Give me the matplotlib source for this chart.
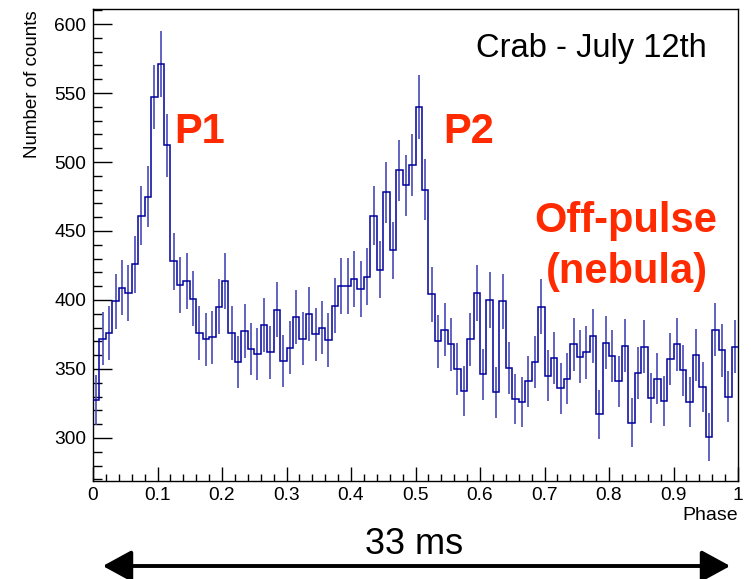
import numpy as np
import matplotlib
matplotlib.use("Agg")
import matplotlib.pyplot as plt
from matplotlib.patches import FancyArrowPatch

plt.rcParams['font.family'] = ['Liberation Sans', 'DejaVu Sans']

# phase histogram, 100 bins over one pulsar period
phase_edges = np.linspace(0.0, 1.0, 101)
counts = [
    327.5, 372, 376, 399, 409, 405, 426, 461, 475, 547,
    571, 512, 428, 411, 414, 401, 376, 371.5, 373, 395,
    414, 376, 355, 377.5, 364.5, 361, 382, 362, 393, 356,
    365.5, 387.5, 372, 390, 375, 380, 371, 396, 410, 410,
    415, 408, 417, 461, 422, 478, 436, 494, 483, 498,
    540, 480, 404, 370, 378.5, 368, 350, 334, 371.5, 405,
    346, 400, 333, 399, 350.5, 328, 326, 341, 355, 395,
    345, 358, 336, 343, 368, 359, 362, 374, 317, 369,
    359.5, 341, 367, 311, 347, 366, 329, 343, 327, 357.5,
    368, 349, 326, 360, 337, 301, 378.5, 363.5, 330, 366,
]
counts = np.array(counts)
centers = 0.5 * (phase_edges[:-1] + phase_edges[1:])
errors = np.sqrt(counts)

fig = plt.figure(figsize=(7.51, 5.79), dpi=100)
ax = fig.add_axes([93 / 751, 1 - 481 / 579, (738 - 93) / 751, (481 - 9) / 579])

ax.errorbar(centers, counts, yerr=errors, fmt='none', ecolor='#4848b8',
            elinewidth=1.2, capsize=0, zorder=2)
ax.stairs(counts, phase_edges, baseline=None, color='#00009c', lw=1.1, zorder=3)

ax.set_xlim(0, 1)
ax.set_ylim(268.8, 610.9)
ax.set_xticks(np.arange(0, 1.01, 0.1))
ax.set_xticklabels(['0', '0.1', '0.2', '0.3', '0.4', '0.5', '0.6', '0.7', '0.8', '0.9', '1'])
ax.set_xticks(np.arange(0, 1.001, 0.02), minor=True)
ax.set_yticks(np.arange(300, 601, 50))
ax.set_yticks(np.arange(270, 611, 10), minor=True)
ax.tick_params(axis='both', which='both', direction='in', top=False, right=False,
               labelsize=13.8, width=1.0, color='black')
ax.tick_params(axis='x', which='major', length=10, pad=4)
ax.tick_params(axis='x', which='minor', length=5)
ax.tick_params(axis='y', which='major', length=13.7, pad=5)
ax.tick_params(axis='y', which='minor', length=6.5)
for sp in ax.spines.values():
    sp.set_linewidth(1.0)

fig.text(33 / 751, 1 - 10 / 579, 'Number of counts', rotation=90,
         ha='center', va='top', fontsize=13.5)
fig.text(738 / 751, 1 - 516 / 579, 'Phase', ha='right', va='center', fontsize=14)

ax.text(591 / 751, 1 - 48 / 579, 'Crab - July 12th', transform=fig.transFigure,
        ha='center', va='center', fontsize=23.5)
red = '#ff2a00'
ax.text(200 / 751, 1 - 132 / 579, 'P1', transform=fig.transFigure, color=red,
        ha='center', va='center', fontsize=30, fontweight='bold')
ax.text(469 / 751, 1 - 132 / 579, 'P2', transform=fig.transFigure, color=red,
        ha='center', va='center', fontsize=30, fontweight='bold')
ax.text(626 / 751, 1 - 221 / 579, 'Off-pulse', transform=fig.transFigure, color=red,
        ha='center', va='center', fontsize=30, fontweight='bold')
ax.text(627 / 751, 1 - 272 / 579, '(nebula)', transform=fig.transFigure, color=red,
        ha='center', va='center', fontsize=30, fontweight='bold')

# period scale bar below the axis
fig.text(414 / 751, 1 - 545 / 579, '33 ms', ha='center', va='center', fontsize=26,
         family=['Liberation Sans Narrow', 'Liberation Sans'])
arrow = FancyArrowPatch((100 / 751, 1 - 566 / 579), (733 / 751, 1 - 566 / 579),
                        transform=fig.transFigure,
                        arrowstyle='<|-|>,head_length=1.1,head_width=0.6',
                        mutation_scale=16, color='black', lw=2.8)
fig.add_artist(arrow)

fig.savefig('out.png', dpi=100)
